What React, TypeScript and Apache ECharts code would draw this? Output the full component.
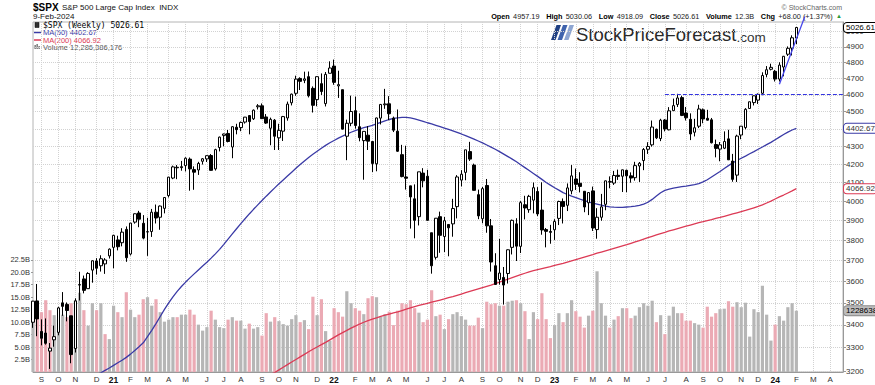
import React, { useEffect, useRef } from "react";
import * as echarts from "echarts";

// ---- weekly S&P 500 data (week ending Friday), first week = 2020-08-28 ----
const FIRST_WEEK_UTC = Date.UTC(2020, 7, 28);
const FUTURE_WEEKS = 11;

const opens = [
  3412, 3509, 3371, 3364, 3285, 3334, 3367, 3500, 3493, 3441,
  3296, 3583, 3612, 3566, 3654, 3698, 3675, 3684, 3723, 3765,
  3802, 3788, 3855, 3732, 3892, 3939, 3886, 3843, 3844, 3943,
  3917, 3963, 4030, 4124, 4183, 4186, 4192, 4228, 4170, 4168,
  4216, 4229, 4248, 4174, 4293, 4362, 4373, 4296, 4409, 4407,
  4439, 4477, 4458, 4529, 4535, 4469, 4403, 4450, 4348, 4386,
  4463, 4553, 4610, 4701, 4689, 4712, 4640, 4572, 4669, 4548,
  4733, 4778, 4655, 4632, 4357, 4432, 4506, 4412, 4332, 4363,
  4327, 4202, 4462, 4541, 4547, 4462, 4386, 4253, 4130, 4082,
  4013, 3920, 4151, 4134, 3838, 3716, 3920, 3819, 3880, 3883,
  3972, 4113, 4155, 4270, 4195, 4035, 3909, 4084, 3873, 3675,
  3609, 3619, 3638, 3765, 3883, 3770, 3982, 3956, 4006, 4052,
  3954, 3854, 3844, 3853, 3911, 3999, 3979, 4055, 4119, 4096,
  4053, 3992, 4055, 3854, 3917, 3984, 4102, 4097, 4139, 4134,
  4166, 4136, 4126, 4190, 4220, 4283, 4308, 4397, 4344, 4451,
  4394, 4506, 4543, 4584, 4492, 4455, 4380, 4415, 4511, 4461,
  4452, 4310, 4284, 4289, 4342, 4217, 4140, 4364, 4407, 4519,
  4554, 4569, 4610, 4726, 4758, 4745, 4697, 4772, 4853, 4892,
  4957.19,
];
const highs = [
  3509, 3588, 3425, 3429, 3320, 3397, 3482, 3550, 3502, 3441,
  3521, 3646, 3628, 3644, 3701, 3712, 3726, 3712, 3760, 3827,
  3823, 3861, 3870, 3887, 3937, 3950, 3928, 3914, 3960, 3983,
  3978, 4021, 4130, 4192, 4195, 4218, 4238, 4237, 4188, 4213,
  4234, 4249, 4256, 4286, 4355, 4372, 4393, 4415, 4429, 4442,
  4469, 4480, 4513, 4545, 4549, 4486, 4465, 4457, 4429, 4475,
  4560, 4608, 4718, 4708, 4743, 4744, 4652, 4713, 4732, 4741,
  4808, 4819, 4749, 4632, 4453, 4596, 4590, 4490, 4385, 4416,
  4327, 4465, 4546, 4637, 4593, 4471, 4513, 4308, 4303, 4082,
  4090, 4158, 4178, 4169, 3838, 3913, 3946, 3918, 3882, 4013,
  4140, 4167, 4280, 4325, 4203, 4062, 4076, 4119, 3908, 3736,
  3807, 3669, 3755, 3905, 3912, 4001, 4029, 4034, 4100, 4075,
  4101, 3862, 3878, 3907, 4003, 4015, 4095, 4195, 4176, 4156,
  4053, 4049, 4078, 3964, 4039, 4110, 4133, 4163, 4170, 4170,
  4170, 4155, 4213, 4212, 4290, 4323, 4448, 4401, 4458, 4456,
  4527, 4578, 4607, 4595, 4528, 4490, 4458, 4541, 4519, 4511,
  4463, 4338, 4324, 4385, 4394, 4257, 4366, 4415, 4521, 4560,
  4596, 4609, 4739, 4778, 4793, 4754, 4802, 4842, 4903, 4975,
  5030.06,
];
const lows = [
  3387, 3350, 3310, 3313, 3209, 3304, 3354, 3441, 3416, 3233,
  3279, 3511, 3544, 3566, 3594, 3633, 3647, 3636, 3710, 3663,
  3750, 3770, 3694, 3725, 3884, 3866, 3805, 3723, 3817, 3885,
  3853, 3937, 4020, 4118, 4118, 4164, 4160, 4056, 4061, 4141,
  4198, 4212, 4165, 4165, 4271, 4300, 4322, 4233, 4368, 4386,
  4430, 4368, 4451, 4513, 4457, 4428, 4306, 4279, 4279, 4330,
  4447, 4537, 4595, 4630, 4672, 4585, 4495, 4532, 4600, 4531,
  4733, 4662, 4582, 4395, 4222, 4415, 4401, 4328, 4115, 4279,
  4157, 4161, 4425, 4517, 4450, 4381, 4268, 4128, 4062, 3859,
  3810, 3875, 4074, 3900, 3637, 3705, 3738, 3742, 3721, 3818,
  3911, 4079, 4112, 4218, 4057, 3907, 3886, 3838, 3647, 3584,
  3585, 3492, 3590, 3730, 3698, 3737, 3906, 3940, 3937, 3923,
  3828, 3765, 3783, 3802, 3877, 3885, 3949, 4037, 4060, 4047,
  3943, 3928, 3847, 3808, 3899, 3953, 4069, 4087, 4114, 4049,
  4048, 4099, 4110, 4103, 4167, 4257, 4298, 4341, 4329, 4385,
  4391, 4505, 4528, 4474, 4448, 4335, 4356, 4404, 4432, 4448,
  4316, 4238, 4216, 4284, 4223, 4104, 4103, 4340, 4397, 4516,
  4537, 4546, 4598, 4708, 4751, 4682, 4682, 4714, 4842, 4845,
  4918.09,
];
const closes = [
  3508, 3427, 3341, 3319, 3298, 3348, 3477, 3484, 3465, 3270,
  3509, 3585, 3558, 3638, 3699, 3663, 3709, 3703, 3756, 3825,
  3768, 3841, 3714, 3887, 3935, 3907, 3811, 3842, 3943, 3913,
  3975, 4020, 4129, 4185, 4180, 4181, 4233, 4174, 4156, 4204,
  4230, 4247, 4166, 4281, 4352, 4370, 4327, 4412, 4395, 4437,
  4468, 4442, 4509, 4535, 4459, 4433, 4455, 4357, 4391, 4471,
  4545, 4605, 4697, 4683, 4698, 4595, 4538, 4712, 4621, 4726,
  4766, 4677, 4663, 4398, 4432, 4501, 4419, 4349, 4385, 4329,
  4204, 4463, 4543, 4546, 4488, 4392, 4272, 4132, 4123, 4023,
  3901, 4158, 4109, 3901, 3675, 3912, 3825, 3899, 3863, 3962,
  4130, 4145, 4280, 4228, 4058, 3924, 4067, 3873, 3693, 3586,
  3640, 3583, 3753, 3901, 3771, 3993, 3965, 4026, 4072, 3934,
  3852, 3845, 3840, 3895, 3999, 3973, 4071, 4136, 4090, 4079,
  3970, 4046, 3862, 3917, 3971, 4109, 4105, 4138, 4133, 4169,
  4136, 4124, 4192, 4205, 4282, 4299, 4410, 4348, 4450, 4399,
  4505, 4536, 4582, 4478, 4464, 4370, 4406, 4516, 4457, 4450,
  4320, 4288, 4308, 4327, 4224, 4117, 4358, 4415, 4514, 4559,
  4595, 4604, 4719, 4755, 4770, 4697, 4784, 4840, 4891, 4959,
  5026.61,
];
// weekly volume, billions of shares
const volumesB = [
  10.6, 13.5, 12.0, 14.4, 12.4, 11.4, 10.5, 11.5, 11.0, 13.8,
  14.4, 15.9, 12.4, 9.3, 13.8, 12.4, 13.8, 7.6, 6.6, 13.3,
  12.0, 11.0, 16.0, 12.5, 11.0, 11.5, 14.6, 15.0, 13.3, 14.6,
  12.0, 10.1, 10.5, 11.0, 11.0, 11.5, 11.5, 12.5, 11.5, 9.5,
  8.3, 9.0, 12.3, 10.5, 9.0, 8.8, 10.5, 11.0, 10.3, 10.3,
  8.7, 9.7, 8.7, 9.0, 7.3, 11.8, 10.1, 11.0, 10.2, 9.6,
  9.3, 10.6, 11.4, 10.0, 10.4, 8.6, 15.1, 11.4, 14.6, 8.2,
  6.3, 12.8, 12.0, 11.1, 16.2, 13.8, 12.8, 12.3, 11.6, 14.8,
  15.2, 15.0, 11.1, 11.6, 12.1, 9.4, 12.3, 13.8, 13.6, 14.4,
  12.8, 11.9, 10.0, 10.5, 16.4, 11.2, 11.5, 8.6, 10.6, 11.6,
  12.0, 11.2, 10.5, 9.3, 9.3, 10.9, 8.8, 14.1, 13.6, 13.8,
  13.3, 13.3, 14.1, 14.3, 14.4, 13.8, 12.2, 6.6, 12.0, 10.6,
  15.8, 10.6, 6.8, 9.4, 11.8, 10.0, 11.8, 14.4, 12.2, 11.1,
  8.9, 11.3, 12.3, 20.2, 13.8, 11.3, 8.9, 10.5, 11.2, 12.8,
  12.8, 10.8, 11.3, 13.0, 13.8, 13.3, 14.3, 10.0, 11.4, 7.6,
  11.3, 13.1, 11.8, 11.8, 10.3, 10.3, 9.8, 9.5, 8.9, 13.1,
  11.1, 11.8, 12.6, 12.7, 14.2, 13.1, 14.0, 13.0, 13.9, 7.1,
  12.6, 12.0, 17.3, 11.5, 6.3, 9.5, 11.2, 10.3, 13.0, 13.8,
  12.29,
];
// 50-week moving average
const ma50 = [
  3085, 3092, 3098, 3104, 3110, 3116, 3122, 3128, 3134, 3140,
  3146, 3153, 3160, 3168, 3176, 3184, 3193, 3203, 3213, 3224,
  3235, 3246, 3258, 3272, 3288, 3304, 3321, 3348, 3376, 3406,
  3438, 3470, 3500, 3528, 3553, 3576, 3597, 3617, 3636, 3655,
  3674, 3692, 3712, 3733, 3755, 3780, 3806, 3832, 3858, 3884,
  3909, 3934, 3958, 3981, 4004, 4027, 4049, 4071, 4093, 4114,
  4135, 4156, 4177, 4198, 4218, 4237, 4255, 4272, 4289, 4305,
  4320, 4333, 4346, 4358, 4369, 4380, 4389, 4398, 4406, 4413,
  4420, 4428, 4437, 4446, 4454, 4460, 4464, 4466, 4466, 4463,
  4458, 4451, 4443, 4435, 4428, 4420, 4412, 4404, 4396, 4388,
  4379, 4370, 4360, 4350, 4340, 4330, 4319, 4307, 4295, 4283,
  4270, 4256, 4242, 4228, 4213, 4197, 4181, 4165, 4149, 4133,
  4117, 4100, 4086, 4072, 4059, 4046, 4036, 4027, 4019, 4011,
  4004, 3997, 3990, 3985, 3980, 3975, 3971, 3969, 3968, 3968,
  3970, 3972, 3975, 3979, 3985, 3995, 4010, 4028, 4045, 4058,
  4065, 4070, 4074, 4078, 4081, 4085, 4089, 4094, 4103, 4115,
  4130, 4145, 4160, 4176, 4192, 4207, 4220, 4233, 4245, 4258,
  4270, 4283, 4296, 4309, 4322, 4337, 4352, 4367, 4381, 4393,
  4402.67,
];
// 200-week moving average (null = below the visible range)
const ma200 = [
  null, null, null, null, null, null, null, null, null, null,
  null, null, null, null, null, null, null, null, null, null,
  null, null, null, null, null, null, null, null, null, null,
  null, null, null, null, null, null, null, null, null, null,
  null, null, null, null, null, null, null, null, 3100, 3111,
  3122, 3133, 3144, 3155, 3166, 3177, 3186, 3194, 3205, 3216,
  3227, 3238, 3249, 3260, 3271, 3282, 3293, 3303, 3313, 3323,
  3334, 3345, 3356, 3366, 3376, 3386, 3395, 3404, 3412, 3419,
  3426, 3432, 3438, 3444, 3449, 3454, 3459, 3465, 3471, 3477,
  3483, 3488, 3493, 3498, 3503, 3508, 3513, 3518, 3524, 3529,
  3535, 3541, 3547, 3553, 3559, 3565, 3571, 3577, 3583, 3590,
  3597, 3604, 3611, 3618, 3625, 3632, 3639, 3646, 3651, 3656,
  3661, 3666, 3671, 3677, 3682, 3687, 3693, 3699, 3705, 3711,
  3717, 3723, 3729, 3736, 3742, 3748, 3754, 3760, 3766, 3772,
  3778, 3785, 3792, 3799, 3806, 3813, 3820, 3827, 3834, 3840,
  3847, 3853, 3859, 3865, 3871, 3877, 3883, 3889, 3894, 3900,
  3905, 3911, 3916, 3922, 3928, 3934, 3940, 3946, 3952, 3959,
  3966, 3973, 3981, 3991, 4001, 4012, 4023, 4033, 4044, 4055,
  4066.92,
];

const priceTicks = [3200, 3300, 3400, 3500, 3600, 3700, 3800, 3900, 4000, 4100, 4200, 4300, 4400, 4500, 4600, 4700, 4800, 4900, 5000];
const volumeTicks = [2.5, 5, 7.5, 10, 12.5, 15, 17.5, 20, 22.5];
const monthInitials = ["J", "F", "M", "A", "M", "J", "J", "A", "S", "O", "N", "D"];

// annotations (week index, price)
const resistanceStart = 149;
const resistanceLevel = 4607;
const trendStart = [176, 4665];
const trendEnd = [182, 5100];

const PRICE_MIN = 3196;
const PRICE_MAX = 5063;
const VOLUME_MAX = 70.2;

const FONT = "'Liberation Sans', Arial, sans-serif";
const PINK = "#ebaab4";
const GREY = "#b6b6b6";
const BLUE = "#3a3aa6";
const RED = "#dc3a55";
const CLEAR = "rgba(0,0,0,0)";

const L = (v: number) => Math.log(v);

export default function App() {
  const ref = useRef<HTMLDivElement>(null);

  useEffect(() => {
    const chart = echarts.init(ref.current!, null, { renderer: "svg" });

    const total = closes.length + FUTURE_WEEKS;
    const cats: string[] = [];
    for (let i = 0; i < total; i++) {
      cats.push(new Date(FIRST_WEEK_UTC + i * 7 * 86400000).toISOString().slice(0, 10));
    }
    const last = closes.length - 1;
    const lastCat = cats[total - 1];

    const isLabelWeek = (_i: number, v: string) => {
      const d = +v.slice(8, 10);
      return d >= 5 && d <= 11;
    };
    const fmtMonth = (v: string) => {
      const m = +v.slice(5, 7);
      if (m === 1) return "{y|" + v.slice(2, 4) + "}";
      return monthInitials[m - 1];
    };

    const candleData = closes.map((c, i) => [L(opens[i]), L(c), L(lows[i]), L(highs[i])]);
    const volData = volumesB.map((v, i) => ({
      value: v,
      itemStyle: { color: i > 0 && closes[i] < closes[i - 1] ? PINK : GREY },
    }));

    const tag = (text: string, border: string, bg: string, color: string) => ({
      show: true,
      position: "end",
      formatter: text,
      distance: 1,
      fontSize: 8,
      fontFamily: FONT,
      color,
      opacity: 1,
      backgroundColor: bg,
      borderColor: border,
      borderWidth: 1,
      borderRadius: 3,
      padding: [1, 2, 0, 2],
    });

    const tagLine = (xCat: string, y: number, label: any) => [
      { coord: [xCat, y], lineStyle: { color: CLEAR, width: 1 }, label },
      { coord: [lastCat, y] },
    ];

    const option: any = {
      animation: false,
      backgroundColor: "#ffffff",
      textStyle: { fontFamily: FONT },
      grid: {
        left: 33,
        right: 32,
        top: 22,
        bottom: 13,
        show: true,
        borderColor: "#b4b4b4",
        borderWidth: 1,
      },
      xAxis: {
        type: "category",
        data: cats,
        boundaryGap: false,
        axisLine: { show: true, lineStyle: { color: "#999" } },
        axisTick: { show: false },
        axisLabel: {
          interval: isLabelWeek,
          formatter: fmtMonth,
          fontSize: 8,
          color: "#333",
          margin: 3,
          rich: { y: { fontWeight: "bold", fontSize: 8.5, color: "#111" } },
        },
        splitLine: {
          show: true,
          interval: isLabelWeek,
          lineStyle: { color: "#d2d2d2", type: "dotted" },
        },
      },
      yAxis: [
        {
          type: "value",
          position: "right",
          min: L(PRICE_MIN),
          max: L(PRICE_MAX),
          axisLine: { show: true, lineStyle: { color: "#999" } },
          axisTick: {
            show: true,
            length: 3,
            customValues: priceTicks.map(L),
            lineStyle: { color: "#999" },
          },
          axisLabel: {
            customValues: priceTicks.map(L),
            formatter: (v: number) => String(Math.round(Math.exp(v))),
            fontSize: 8,
            color: "#333",
            margin: 3,
          },
          splitLine: { show: true, lineStyle: { color: "#d2d2d2", type: "dotted" } },
        },
        {
          type: "value",
          position: "left",
          min: 0,
          max: VOLUME_MAX,
          axisLine: { show: false },
          axisTick: {
            show: true,
            length: 2,
            customValues: volumeTicks,
            lineStyle: { color: "#999" },
          },
          axisLabel: {
            customValues: volumeTicks,
            formatter: (v: number) => v.toFixed(1) + "B",
            fontSize: 7.5,
            color: "#333",
            margin: 3,
          },
          splitLine: { show: false },
        },
      ],
      series: [
        {
          type: "bar",
          name: "Volume",
          yAxisIndex: 1,
          data: volData,
          barWidth: 3.2,
          z: 1,
          markLine: {
            silent: true,
            symbol: ["none", "none"],
            z: 10,
            data: [tagLine(cats[last], volumesB[last], tag("12286386176", "#888", "#bdbdbd", "#000"))],
          },
        },
        {
          type: "line",
          name: "MA(200)",
          data: ma200.map((v) => (v == null ? "-" : L(v))),
          showSymbol: false,
          lineStyle: { color: RED, width: 1.3 },
          z: 3,
          markLine: {
            silent: true,
            symbol: ["none", "none"],
            z: 10,
            data: [tagLine(cats[last], L(ma200[last] as number), tag("4066.92", RED, "#fff", "#333"))],
          },
        },
        {
          type: "line",
          name: "MA(50)",
          data: ma50.map((v) => L(v)),
          showSymbol: false,
          lineStyle: { color: BLUE, width: 1.3 },
          z: 3,
          markLine: {
            silent: true,
            symbol: ["none", "none"],
            z: 10,
            data: [tagLine(cats[last], L(ma50[last]), tag("4402.67", BLUE, "#fff", "#333"))],
          },
        },
        {
          type: "line",
          name: "Trend",
          data: [
            [cats[trendStart[0]], L(trendStart[1])],
            [cats[trendEnd[0]], L(trendEnd[1])],
          ],
          clip: false,
          showSymbol: false,
          silent: true,
          lineStyle: { color: "#4646ea", width: 1.3 },
          z: 5,
        },
        {
          type: "candlestick",
          name: "$SPX",
          data: candleData,
          barWidth: 3,
          z: 4,
          itemStyle: {
            color: "#ffffff",
            color0: "#000000",
            borderColor: "#000000",
            borderColor0: "#000000",
            borderWidth: 1,
          },
          markLine: {
            silent: true,
            symbol: ["none", "none"],
            z: 10,
            data: [
              [
                {
                  coord: [cats[resistanceStart], L(resistanceLevel)],
                  lineStyle: { type: [4, 2], color: "#3434e0", width: 1.2 },
                  label: { show: false },
                },
                { coord: [lastCat, L(resistanceLevel)] },
              ],
              tagLine(cats[last], L(closes[last]), tag("5026.61", "#000", "#fff", "#000")),
            ],
          },
        },
      ],
      graphic: [
        // header left
        {
          type: "text",
          x: 33,
          y: 7,
          style: {
            text: "{a|$SPX} {b|S&P 500 Large Cap Index  INDX}",
            verticalAlign: "middle",
            rich: {
              a: { fontSize: 10, fontWeight: "bold", fill: "#000", fontFamily: FONT },
              b: { fontSize: 8, fill: "#111", fontFamily: FONT },
            },
          },
        },
        {
          type: "text",
          x: 33,
          y: 16,
          style: { text: "9-Feb-2024", fontSize: 8, fill: "#111", fontFamily: FONT, verticalAlign: "middle" },
        },
        // header right
        {
          type: "text",
          x: 842,
          y: 7,
          style: { text: "© StockCharts.com", fontSize: 7, fill: "#666", fontFamily: FONT, align: "right", verticalAlign: "middle" },
        },
        {
          type: "text",
          x: 842,
          y: 16,
          style: {
            text:
              "{b|Open} {n|4957.19}  {b|High} {n|5030.06}  {b|Low} {n|4918.09}  {b|Close} {n|5026.61}  {b|Volume} {n|12.3B}  {b|Chg} {n|+68.00 (+1.37%)} {g|▲}",
            align: "right",
            verticalAlign: "middle",
            rich: {
              b: { fontSize: 7.3, fontWeight: "bold", fill: "#000", fontFamily: FONT },
              n: { fontSize: 7.3, fill: "#222", fontFamily: FONT },
              g: { fontSize: 6, fill: "#2a9a3a", fontFamily: FONT },
            },
          },
        },
        // legend inside plot
        { type: "rect", shape: { x: 35, y: 22.5, width: 4, height: 5 }, style: { fill: "#333", stroke: "#000", lineWidth: 0.5 } },
        {
          type: "text",
          x: 43,
          y: 25.5,
          style: { text: "$SPX (Weekly) 5026.61", fontSize: 8, fill: "#000", fontFamily: "'DejaVu Sans Mono', monospace", verticalAlign: "middle" },
        },
        { type: "line", shape: { x1: 34, y1: 32.5, x2: 41, y2: 32.5 }, style: { stroke: BLUE, lineWidth: 1.5 } },
        {
          type: "text",
          x: 43,
          y: 32.5,
          style: { text: "MA(50) 4402.67", fontSize: 7.5, fill: BLUE, fontFamily: FONT, verticalAlign: "middle" },
        },
        { type: "line", shape: { x1: 34, y1: 40, x2: 41, y2: 40 }, style: { stroke: RED, lineWidth: 1.5 } },
        {
          type: "text",
          x: 43,
          y: 40,
          style: { text: "MA(200) 4066.92", fontSize: 7.5, fill: RED, fontFamily: FONT, verticalAlign: "middle" },
        },
        { type: "rect", shape: { x: 34.5, y: 45, width: 1.3, height: 4 }, style: { fill: "#666" } },
        { type: "rect", shape: { x: 36.5, y: 44, width: 1.3, height: 5 }, style: { fill: "#666" } },
        { type: "rect", shape: { x: 38.5, y: 46, width: 1.3, height: 3 }, style: { fill: "#666" } },
        {
          type: "text",
          x: 43,
          y: 47.3,
          style: { text: "Volume 12,286,386,176", fontSize: 7.5, fill: "#555", fontFamily: FONT, verticalAlign: "middle" },
        },
        // logo
        { type: "polygon", shape: { points: [[551, 40], [555.5, 40], [561, 25], [556.5, 25]] }, style: { fill: "#1f3f82" } },
        { type: "polygon", shape: { points: [[557.5, 40], [562, 40], [567.5, 25], [563, 25]] }, style: { fill: "#3f63ad" } },
        { type: "polygon", shape: { points: [[564, 40], [568.5, 40], [574, 25], [569.5, 25]] }, style: { fill: "#8ea6d2" } },
        {
          type: "text",
          x: 576,
          y: 44,
          style: {
            text: "{a|StockPriceForecast}{b|.com}",
            verticalAlign: "bottom",
            rich: {
              a: { fontSize: 18.5, fill: "#2a2a2a", fontFamily: FONT, verticalAlign: "bottom" },
              b: { fontSize: 13.5, fill: "#333", fontFamily: FONT, verticalAlign: "bottom" },
            },
          },
        },
      ],
    };

    chart.setOption(option);
    return () => chart.dispose();
  }, []);

  return (
    <div
      ref={ref}
      style={{ position: "fixed", left: 0, top: 0, width: 875, height: 385, background: "#fff" }}
    />
  );
}
